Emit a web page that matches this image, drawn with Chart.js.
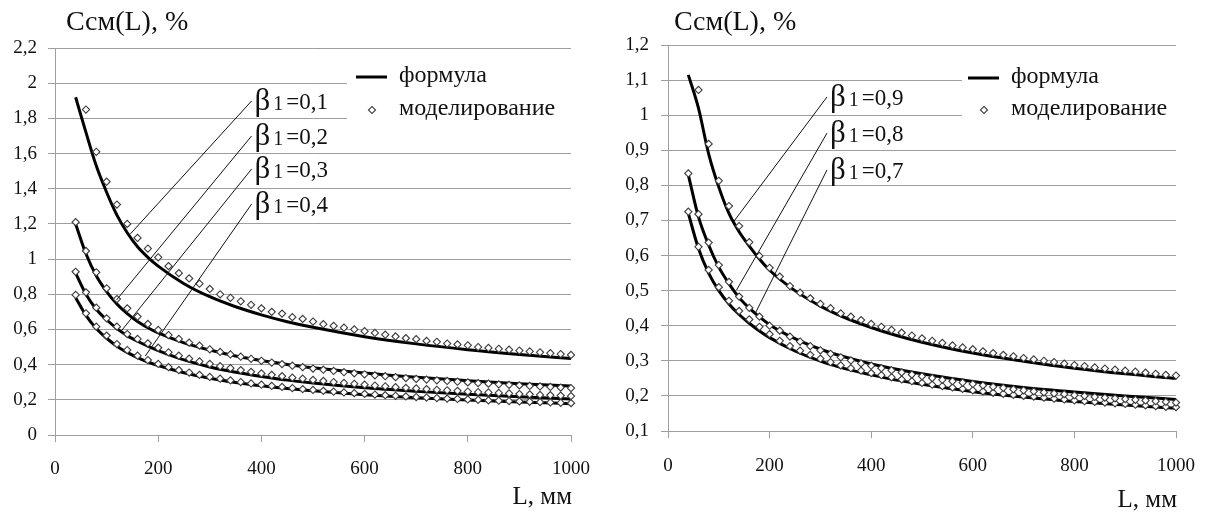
<!DOCTYPE html>
<html>
<head>
<meta charset="utf-8">
<script src="https://cdn.jsdelivr.net/npm/chart.js@4.4.0/dist/chart.umd.min.js"></script>
<style>
  body { margin: 0; background: #fff; width: 1212px; height: 512px; overflow: hidden; position: relative; }
  canvas { position: absolute; top: 0; }
  #left { left: 0; }
  #right { left: 606px; }
</style>
</head>
<body>
<canvas id="left" width="606" height="512"></canvas>
<canvas id="right" width="606" height="512"></canvas>
<script>
// L, mm - simulation points every 20 mm, formula curve sampled coarser
const lSim = [40, 60, 80, 100, 120, 140, 160, 180, 200, 220, 240, 260, 280, 300, 320, 340, 360, 380, 400, 420,
  440, 460, 480, 500, 520, 540, 560, 580, 600, 620, 640, 660, 680, 700, 720, 740, 760, 780, 800, 820,
  840, 860, 880, 900, 920, 940, 960, 980, 1000];
const lFormula = [40, 60, 80, 100, 120, 140, 160, 180, 200, 250, 300, 350, 400, 450, 500, 600, 700, 800, 900, 1000];

// left chart, beta1 = 0.1 ... 0.4
const formulaB01 = [1.92, 1.72, 1.53, 1.38, 1.25, 1.15, 1.07, 1.01, 0.96, 0.86, 0.786, 0.729, 0.683, 0.644, 0.612, 0.559, 0.518, 0.485, 0.458, 0.435];
const formulaB02 = [1.2, 1.03, 0.905, 0.815, 0.745, 0.69, 0.645, 0.61, 0.58, 0.524, 0.483, 0.449, 0.423, 0.401, 0.382, 0.352, 0.328, 0.309, 0.292, 0.279];
const formulaB03 = [0.92, 0.8, 0.715, 0.655, 0.605, 0.565, 0.533, 0.505, 0.48, 0.427, 0.387, 0.357, 0.333, 0.312, 0.295, 0.268, 0.248, 0.231, 0.217, 0.205];
const formulaB04 = [0.78, 0.68, 0.605, 0.55, 0.505, 0.47, 0.44, 0.415, 0.395, 0.354, 0.323, 0.299, 0.28, 0.264, 0.251, 0.229, 0.212, 0.199, 0.188, 0.178];

// simulation for 0.1 starts at L = 60
const simB01 = [1.85, 1.61, 1.44, 1.31, 1.2, 1.12, 1.06, 1.01, 0.96, 0.92, 0.89, 0.86, 0.83, 0.8, 0.78, 0.76, 0.74, 0.72,
  0.7, 0.69, 0.67, 0.66, 0.645, 0.63, 0.62, 0.61, 0.6, 0.59, 0.58, 0.57, 0.56, 0.55, 0.545, 0.535, 0.53, 0.52,
  0.515, 0.51, 0.5, 0.495, 0.49, 0.485, 0.48, 0.475, 0.47, 0.465, 0.46, 0.455];
const simB02 = [1.21, 1.046, 0.925, 0.834, 0.773, 0.72, 0.673, 0.631, 0.597, 0.568, 0.546, 0.525, 0.508, 0.487,
  0.472, 0.458, 0.445, 0.433, 0.422, 0.412, 0.403, 0.394, 0.386, 0.378, 0.371, 0.364, 0.357, 0.351, 0.345,
  0.339, 0.334, 0.329, 0.324, 0.319, 0.315, 0.311, 0.307, 0.303, 0.299, 0.295, 0.292, 0.288, 0.285, 0.282,
  0.279, 0.276, 0.273, 0.27, 0.267];
const simB03 = [0.928, 0.811, 0.724, 0.663, 0.616, 0.574, 0.546, 0.521, 0.496, 0.47, 0.451, 0.434, 0.418, 0.404,
  0.391, 0.38, 0.369, 0.359, 0.35, 0.342, 0.334, 0.326, 0.32, 0.313, 0.307, 0.301, 0.296, 0.291, 0.286,
  0.281, 0.277, 0.272, 0.268, 0.265, 0.261, 0.257, 0.254, 0.251, 0.247, 0.244, 0.242, 0.239, 0.236, 0.233,
  0.231, 0.228, 0.226, 0.224, 0.221];
const simB04 = [0.796, 0.692, 0.616, 0.565, 0.517, 0.483, 0.451, 0.426, 0.404, 0.386, 0.369, 0.355, 0.342, 0.33,
  0.32, 0.31, 0.301, 0.293, 0.286, 0.279, 0.273, 0.267, 0.261, 0.256, 0.251, 0.246, 0.242, 0.238, 0.234,
  0.23, 0.226, 0.223, 0.219, 0.216, 0.213, 0.21, 0.207, 0.205, 0.202, 0.2, 0.197, 0.195, 0.193, 0.191,
  0.189, 0.187, 0.185, 0.183, 0.181];

// right chart, beta1 = 0.9, 0.8, 0.7
const formulaB09 = [1.115, 1.02, 0.89, 0.795, 0.72, 0.668, 0.627, 0.59, 0.558, 0.5, 0.456, 0.422, 0.395, 0.372, 0.353, 0.322, 0.299, 0.279, 0.263, 0.25];
const formulaB08 = [0.83, 0.71, 0.63, 0.567, 0.52, 0.48, 0.45, 0.425, 0.403, 0.363, 0.333, 0.31, 0.291, 0.276, 0.263, 0.241, 0.224, 0.211, 0.2, 0.19];
const formulaB07 = [0.72, 0.62, 0.55, 0.5, 0.462, 0.432, 0.407, 0.385, 0.366, 0.328, 0.299, 0.277, 0.26, 0.245, 0.233, 0.212, 0.197, 0.184, 0.174, 0.165];

// simulation for 0.9 starts at L = 60
const simB09 = [1.072, 0.918, 0.813, 0.741, 0.684, 0.638, 0.599, 0.565, 0.54, 0.513, 0.494, 0.478, 0.462, 0.45,
  0.435, 0.426, 0.416, 0.405, 0.397, 0.388, 0.38, 0.372, 0.364, 0.357, 0.351, 0.344, 0.338, 0.333, 0.327,
  0.322, 0.317, 0.313, 0.308, 0.304, 0.3, 0.296, 0.292, 0.288, 0.285, 0.281, 0.278, 0.275, 0.272, 0.269,
  0.266, 0.263, 0.26, 0.258];
const simB08 = [0.834, 0.718, 0.637, 0.573, 0.525, 0.483, 0.451, 0.426, 0.4, 0.386, 0.369, 0.355, 0.342, 0.33,
  0.32, 0.31, 0.301, 0.293, 0.286, 0.279, 0.273, 0.267, 0.261, 0.256, 0.251, 0.246, 0.242, 0.238, 0.234,
  0.23, 0.226, 0.223, 0.219, 0.216, 0.213, 0.21, 0.207, 0.205, 0.202, 0.2, 0.197, 0.195, 0.193, 0.191,
  0.189, 0.187, 0.185, 0.183, 0.181];
const simB07 = [0.725, 0.625, 0.559, 0.51, 0.471, 0.442, 0.418, 0.397, 0.376, 0.357, 0.342, 0.329, 0.317, 0.306,
  0.296, 0.287, 0.279, 0.272, 0.265, 0.259, 0.253, 0.247, 0.242, 0.237, 0.232, 0.228, 0.224, 0.22, 0.216,
  0.213, 0.209, 0.206, 0.203, 0.2, 0.198, 0.195, 0.192, 0.19, 0.187, 0.185, 0.183, 0.181, 0.179, 0.177,
  0.175, 0.173, 0.171, 0.169, 0.168];

const xTicks = [0, 200, 400, 600, 800, 1000];
const xLabels = ['0', '200', '400', '600', '800', '1000'];
const leftYTicks = [0, 0.2, 0.4, 0.6, 0.8, 1, 1.2, 1.4, 1.6, 1.8, 2, 2.2];
const leftYLabels = ['0', '0,2', '0,4', '0,6', '0,8', '1', '1,2', '1,4', '1,6', '1,8', '2', '2,2'];
const rightYTicks = [0.1, 0.2, 0.3, 0.4, 0.5, 0.6, 0.7, 0.8, 0.9, 1, 1.1, 1.2];
const rightYLabels = ['0,1', '0,2', '0,3', '0,4', '0,5', '0,6', '0,7', '0,8', '0,9', '1', '1,1', '1,2'];

const legendNames = ['формула', 'моделирование'];
const titleText = 'Ссм(L), %';
const xTitle = 'L, мм';

const SERIF = '"Liberation Serif", "Times New Roman", serif';
const GRID = '#9e9e9e';

function pts(xs, ys) {
  return ys.map((v, i) => ({ x: xs[i], y: v }));
}

function formulaSet(ys) {
  return {
    data: pts(lFormula, ys), borderColor: '#000', borderWidth: 3, pointRadius: 0,
    cubicInterpolationMode: 'monotone', order: 2, clip: false
  };
}

function simSet(xs, ys) {
  return {
    data: pts(xs, ys), showLine: false, pointStyle: 'rectRot', pointRadius: 3.6,
    pointBorderWidth: 1.1, pointBorderColor: '#3a3a3a', pointBackgroundColor: '#fff',
    order: 1, clip: false
  };
}

function betaLabel(ctx, x, y, val) {
  ctx.textAlign = 'left';
  ctx.textBaseline = 'middle';
  ctx.font = '31px ' + SERIF;
  ctx.fillText('β', x, y);
  let w = ctx.measureText('β').width + 3;
  ctx.font = '20px ' + SERIF;
  ctx.fillText('1', x + w, y + 3);
  w += ctx.measureText('1').width + 3;
  ctx.font = '23px ' + SERIF;
  ctx.fillText('=' + val, x + w, y + 1);
}

const overlay = {
  id: 'overlay',
  beforeDatasetsDraw(chart, args, o) {
    const ctx = chart.ctx;
    ctx.save();
    ctx.fillStyle = '#fff';
    ctx.fillRect(o.box[0], o.box[1], o.box[2], o.box[3]);
    ctx.restore();
  },
  afterDatasetsDraw(chart, args, o) {
    const ctx = chart.ctx;
    const sx = chart.scales.x, sy = chart.scales.y;
    ctx.save();
    ctx.fillStyle = '#111';
    ctx.strokeStyle = '#111';

    // leader lines with beta labels
    ctx.lineWidth = 1;
    o.leaders.forEach(l => {
      const x0 = sx.getPixelForValue(l.from[0]), y0 = sy.getPixelForValue(l.from[1]);
      const x1 = sx.getPixelForValue(l.to[0]), y1 = sy.getPixelForValue(l.to[1]);
      ctx.beginPath();
      ctx.moveTo(x0, y0);
      ctx.lineTo(x1, y1);
      ctx.stroke();
      betaLabel(ctx, x0 + 3, y0 + 1, l.text);
    });

    // legend
    const lg = o.legend;
    ctx.lineWidth = 3;
    ctx.strokeStyle = '#000';
    ctx.beginPath();
    ctx.moveTo(lg.x, lg.y1);
    ctx.lineTo(lg.x + 31, lg.y1);
    ctx.stroke();
    ctx.save();
    ctx.translate(lg.x + 16, lg.y2);
    ctx.rotate(Math.PI / 4);
    ctx.fillStyle = '#fff';
    ctx.strokeStyle = '#3a3a3a';
    ctx.lineWidth = 1.1;
    ctx.fillRect(-2.5, -2.5, 5, 5);
    ctx.strokeRect(-2.5, -2.5, 5, 5);
    ctx.restore();
    ctx.font = '24px ' + SERIF;
    ctx.textAlign = 'left';
    ctx.textBaseline = 'middle';
    ctx.fillText(legendNames[0], lg.x + 43, lg.y1 - 1);
    ctx.fillText(legendNames[1], lg.x + 43, lg.y2 - 1);

    // chart title and axis title
    ctx.font = '28px ' + SERIF;
    ctx.fillText(titleText, o.title[0], o.title[1]);
    ctx.textAlign = 'right';
    ctx.font = '25px ' + SERIF;
    ctx.fillText(xTitle, sx.right + 1, o.xTitleY);
    ctx.restore();
  }
};

function makeChart(id, datasets, yTicks, yLabels, cfg) {
  return new Chart(document.getElementById(id), {
    type: 'line',
    data: { datasets: datasets },
    options: {
      responsive: false,
      animation: false,
      devicePixelRatio: 1,
      layout: { padding: { top: cfg.top, right: cfg.right, left: 0, bottom: 0 } },
      plugins: {
        legend: { display: false },
        tooltip: { enabled: false },
        overlay: cfg
      },
      scales: {
        x: {
          type: 'linear', min: 0, max: 1000,
          afterBuildTicks: s => { s.ticks = xTicks.map(v => ({ value: v })); },
          afterFit: s => { s.height = cfg.xHeight; },
          grid: { drawOnChartArea: false, color: GRID, tickLength: 7 },
          border: { color: GRID },
          ticks: {
            autoSkip: false, maxRotation: 0, padding: cfg.xPad, color: '#111',
            font: { family: SERIF, size: 19 },
            callback: (v, i) => xLabels[i]
          }
        },
        y: {
          min: yTicks[0], max: yTicks[yTicks.length - 1],
          afterBuildTicks: s => { s.ticks = yTicks.map(v => ({ value: v })); },
          afterFit: s => { s.width = cfg.yWidth; },
          grid: { color: GRID, tickLength: 7 },
          border: { color: GRID },
          ticks: {
            autoSkip: false, padding: cfg.yPad, color: '#111',
            font: { family: SERIF, size: 19 },
            callback: (v, i) => yLabels[i]
          }
        }
      }
    },
    plugins: [overlay]
  });
}

makeChart('left', [
  simSet(lSim.slice(1), simB01), simSet(lSim, simB02), simSet(lSim, simB03), simSet(lSim, simB04),
  formulaSet(formulaB01), formulaSet(formulaB02), formulaSet(formulaB03), formulaSet(formulaB04)
], leftYTicks, leftYLabels, {
  top: 48, right: 31, xHeight: 77, yWidth: 55, xPad: 16, yPad: 11,
  box: [347, 60, 232, 72],
  legend: { x: 356, y1: 77, y2: 110 },
  title: [66, 23], xTitleY: 497,
  leaders: [
    { from: [381, 1.899], to: [146, 1.143], text: '0,1' },
    { from: [381, 1.70], to: [119, 0.767], text: '0,2' },
    { from: [381, 1.512], to: [127, 0.586], text: '0,3' },
    { from: [381, 1.313], to: [175, 0.449], text: '0,4' }
  ]
});

makeChart('right', [
  simSet(lSim.slice(1), simB09), simSet(lSim, simB08), simSet(lSim, simB07),
  formulaSet(formulaB09), formulaSet(formulaB08), formulaSet(formulaB07)
], rightYTicks, rightYLabels, {
  top: 45, right: 26, xHeight: 81, yWidth: 62, xPad: 17, yPad: 12,
  box: [356, 58, 250, 74],
  legend: { x: 362, y1: 78, y2: 110 },
  title: [68, 23], xTitleY: 500,
  leaders: [
    { from: [313, 1.052], to: [129, 0.696], text: '0,9' },
    { from: [313, 0.949], to: [135, 0.502], text: '0,8' },
    { from: [313, 0.844], to: [172, 0.436], text: '0,7' }
  ]
});
</script>
</body>
</html>
